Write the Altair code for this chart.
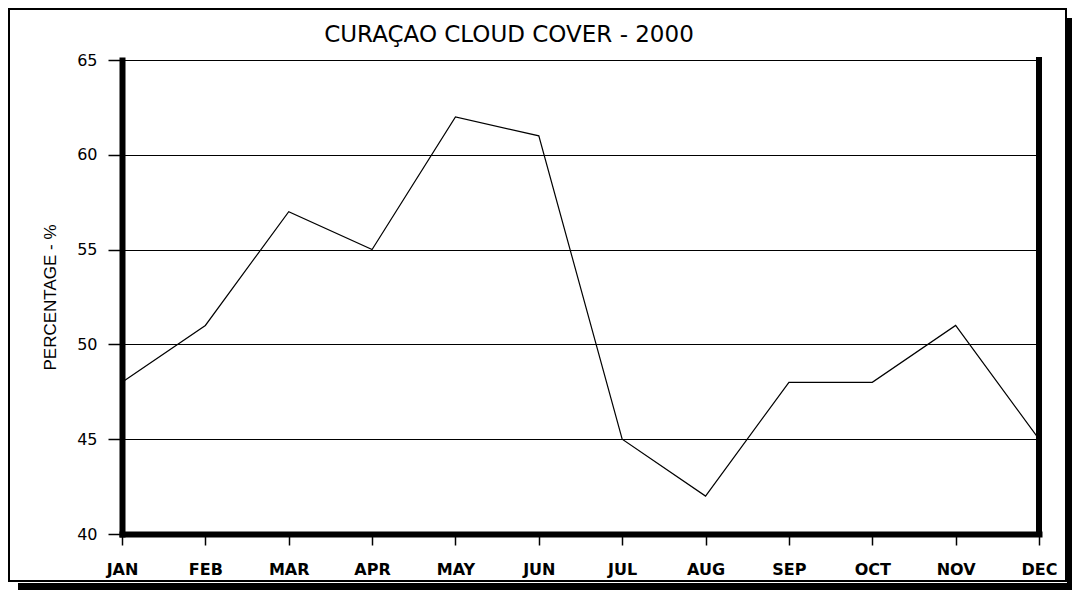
import altair as alt
import pandas as pd

months = ["JAN", "FEB", "MAR", "APR", "MAY", "JUN", "JUL", "AUG", "SEP", "OCT", "NOV", "DEC"]
cloud_cover = [48, 51, 57, 55, 62, 61, 45, 42, 48, 48, 51, 45]
y_ticks = [40, 45, 50, 55, 60, 65]
title_text = "CURAÇAO CLOUD COVER - 2000"
y_title = "PERCENTAGE - %"

df = pd.DataFrame({"month": months, "value": cloud_cover})
one = pd.DataFrame({"a": [0]})

W, H = 917, 474

x_enc = alt.X(
    "month:O", sort=months, title=None,
    scale=alt.Scale(type="point", padding=0),
    axis=alt.Axis(
        labelAngle=0, domainColor="black", domainWidth=6, domainCap="square",
        tickColor="black", tickSize=11, tickWidth=1.5,
        labelFont="DejaVu Sans", labelFontSize=16, labelFontWeight="bold",
        labelColor="black", labelPadding=16, labelBaseline="top",
    ),
)
y_enc = alt.Y(
    "value:Q", title=y_title,
    scale=alt.Scale(domain=[40, 65], nice=False, zero=False),
    axis=alt.Axis(
        values=y_ticks, grid=True, gridColor="black", gridWidth=1, gridOpacity=1,
        domainColor="black", domainWidth=6, domainCap="square",
        tickColor="black", tickSize=14, tickWidth=1.5,
        labelFont="DejaVu Sans", labelFontSize=16, labelColor="black", labelPadding=11,
        titleFont="Liberation Sans", titleFontSize=17, titleFontWeight="normal",
        titleColor="black", titleAngle=270, titleBaseline="middle", titleAlign="center",
        titleX=-72, titleY=H / 2,
    ),
)

line = alt.Chart(df).mark_line(color="black", strokeWidth=1.2).encode(x=x_enc, y=y_enc)

right_rule = alt.Chart(one).mark_rule(color="black", strokeWidth=6, strokeCap="square").encode(
    x=alt.value(W), y=alt.value(0), y2=alt.value(H)
)

title = alt.Chart(one).mark_text(
    text=title_text, font="DejaVu Sans", fontSize=23, color="black",
    align="center", baseline="alphabetic",
).encode(x=alt.value(387), y=alt.value(-18))

box = alt.Chart(one).mark_rect(fill="white", fillOpacity=0, stroke="black", strokeWidth=2).encode(
    x=alt.value(-113), x2=alt.value(944), y=alt.value(-51), y2=alt.value(521)
)
shadow_bottom = alt.Chart(one).mark_rect(color="black").encode(
    x=alt.value(-104), x2=alt.value(950), y=alt.value(523), y2=alt.value(530)
)
shadow_right = alt.Chart(one).mark_rect(color="black").encode(
    x=alt.value(945), x2=alt.value(950), y=alt.value(-42), y2=alt.value(530)
)

chart = alt.layer(box, shadow_bottom, shadow_right, line, right_rule, title).properties(
    width=W, height=H,
    padding={"left": 114, "top": 52, "right": 33, "bottom": 56},
    autosize="none",
    background="white",
).configure_view(stroke=None)

chart.save("out.html", embed_options={"renderer": "svg", "actions": False})
